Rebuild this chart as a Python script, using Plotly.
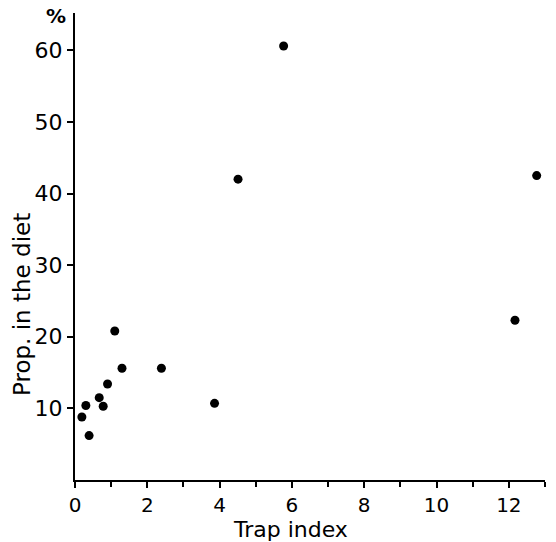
import plotly.graph_objects as go

trap_index = [0.19, 0.30, 0.39, 0.67, 0.78, 0.90, 1.10, 1.30, 2.39, 3.86, 4.51, 5.77, 12.17, 12.77]
prop_diet = [8.8, 10.4, 6.2, 11.5, 10.3, 13.4, 20.8, 15.6, 15.6, 10.7, 42.0, 60.6, 22.3, 42.5]

x_ticks = [0, 2, 4, 6, 8, 10, 12]
y_ticks = [10, 20, 30, 40, 50, 60]

FONT = "DejaVu Sans"
W, H = 556, 542
L, R, T, B = 75, 11, 13, 62
PW, PH = W - L - R, H - T - B


def px_to_paper(px, py):
    return (px - L) / PW, (H - B - py) / PH


fig = go.Figure()
fig.add_trace(go.Scatter(
    x=trap_index, y=prop_diet, mode="markers",
    marker=dict(color="black", size=9),
    showlegend=False, hoverinfo="skip",
))

fig.update_layout(
    template="none",
    width=W, height=H,
    margin=dict(l=L, r=R, t=T, b=B, autoexpand=False),
    paper_bgcolor="white", plot_bgcolor="white",
    font=dict(family=FONT, color="black"),
    xaxis=dict(
        range=[0, 13], tickvals=x_ticks, ticktext=[str(v) for v in x_ticks],
        showline=True, linecolor="black", linewidth=2, automargin=False,
        ticks="outside", ticklen=6, tickwidth=2, tickcolor="black",
        minor=dict(dtick=1, tick0=0, ticks="outside", ticklen=5, tickwidth=2, tickcolor="black"),
        showgrid=False, zeroline=False,
        tickfont=dict(size=20, family=FONT),
    ),
    yaxis=dict(
        range=[0, 65.2], tickvals=y_ticks, ticktext=[str(v) for v in y_ticks],
        showline=True, linecolor="black", linewidth=2, automargin=False,
        ticks="outside", ticklen=6, tickwidth=2, tickcolor="black",
        showgrid=False, zeroline=False,
        tickfont=dict(size=22, family=FONT),
    ),
)

for text, (px, py), size, angle in [
    ("Trap index", (290, 529), 22, 0),
    ("Prop. in the diet", (22, 305), 23, -90),
    ("<b>%</b>", (56, 16), 20, 0),
]:
    xp, yp = px_to_paper(px, py)
    fig.add_annotation(text=text, x=xp, y=yp, xref="paper", yref="paper",
                       showarrow=False, textangle=angle, borderpad=0,
                       xanchor="center", yanchor="middle",
                       font=dict(size=size, family=FONT, color="black"))

fig.write_html("out.html", config={"displayModeBar": False},
               post_script="document.body.style.margin='0';document.body.style.overflow='hidden';")
